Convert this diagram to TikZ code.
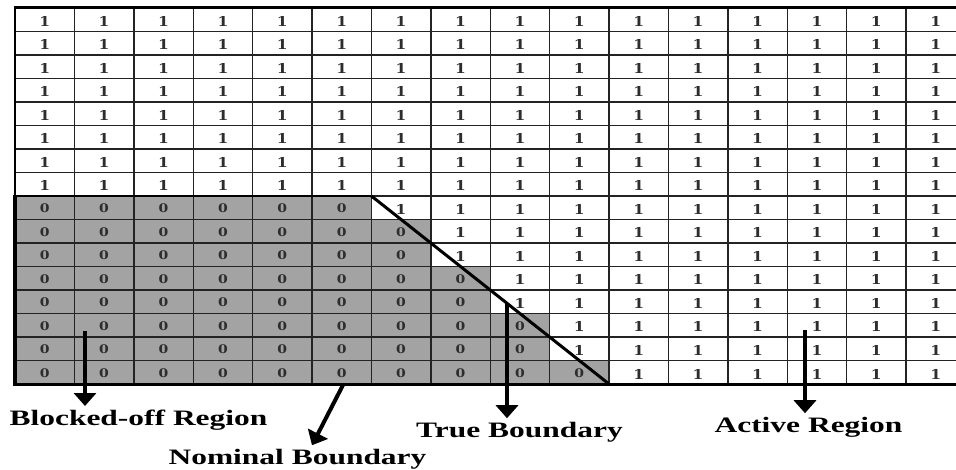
\documentclass[tikz,border=0pt]{standalone}
\usepackage{fontspec}
\usepackage{graphicx}
\setmainfont{Liberation Serif}
\newfontfamily\digitfont{DejaVu Serif}
\usetikzlibrary{arrows.meta}
\definecolor{cellgray}{RGB}{163,163,163}
\definecolor{gridline}{RGB}{35,35,35}
\definecolor{digit}{RGB}{45,45,45}
\begin{document}
\begin{tikzpicture}[x=1pt,y=-1pt,
  gridln/.style={draw=gridline,line width=1.4pt},
  arr/.style={line width=4pt,-{Triangle[width=22pt,length=13pt]}},
  lbl/.style={font=\fontsize{22}{24}\selectfont\bfseries, inner sep=3.5pt, outer sep=0pt, anchor=base},
  one/.style={font=\digitfont\bfseries\fontsize{13.5}{15}\selectfont, text=digit, inner sep=0pt, anchor=base},
  zero/.style={font=\digitfont\bfseries\fontsize{12.5}{14}\selectfont, text=digit, inner sep=0pt, anchor=base}]
\useasboundingbox[fill=white] (0,0) rectangle (956,470);
% gray blocked region
\fill[cellgray] (15,196) -- (371.4,196) -- (371.4,219.5) -- (430.8,219.5) -- (430.8,266.5)
  -- (490.2,266.5) -- (490.2,313.5) -- (549.6,313.5) -- (549.6,360.5) -- (609,360.5)
  -- (609,384) -- (15,384) -- cycle;
% grid lines
\foreach \r in {1,...,15}{
  \draw[gridln] (15,{8+23.5*\r}) -- (956,{8+23.5*\r});
}
\foreach \c in {1,...,15}{
  \draw[gridln] ({15+59.4*\c},8) -- ({15+59.4*\c},384);
}
\draw[line width=1.6pt,black] (15,8) -- (15,196);
% thick borders
\draw[line width=3pt,black] (13.5,8) -- (956,8);
\draw[line width=3pt,black] (13,384) -- (956,384);
\draw[line width=2.5pt,black] (15,196) -- (371.4,196);
\draw[line width=4pt,black] (15,194.8) -- (15,385.5);
% diagonal (true boundary)
\draw[line width=3pt,black] (371.4,196) -- (609,384);
% cell values
\foreach \r in {0,...,15}{
  \foreach \c in {0,...,15}{
    \pgfmathsetmacro{\xc}{44.7+59.4*\c}
    \pgfmathsetmacro{\yt}{8+23.5*\r}
    \pgfmathsetmacro{\isz}{((\r>7)&&(\xc<371.4+1.2638*(\yt+11.75-196)))?1:0}
    \ifdim\isz pt>0.5pt
      \node[zero] (c-\r-\c) at (\xc,\yt+16.8) {\scalebox{1.12}[0.95]{0}};
    \else
      \node[one] (c-\r-\c) at (\xc,\yt+18.5) {\scalebox{1.15}[1]{1}};
    \fi
  }
}
% labels
\node[lbl] (blocked) at (138.5,425) {\scalebox{1.43}[1]{Blocked-off Region}};
\node[lbl] (nominal) at (297.5,464) {\scalebox{1.43}[1]{Nominal Boundary}};
\node[lbl] (trueb) at (519.5,437) {\scalebox{1.43}[1]{True Boundary}};
\node[lbl] (active) at (808.5,432) {\scalebox{1.43}[1]{Active Region}};
% arrows
\coordinate (sBlocked) at (85,331);
\coordinate (sNominal) at (343,385);
\coordinate (tNominal) at (312,445);
\coordinate (sTrue) at (507,303);
\coordinate (sActive) at (805,330);
\draw[arr] (sBlocked) -- (sBlocked |- blocked.north);
\draw[arr] (sNominal) -- (tNominal |- nominal.north);
\draw[arr] (sTrue) -- (sTrue |- trueb.north);
\draw[arr] (sActive) -- (sActive |- active.north);
\end{tikzpicture}
\end{document}
